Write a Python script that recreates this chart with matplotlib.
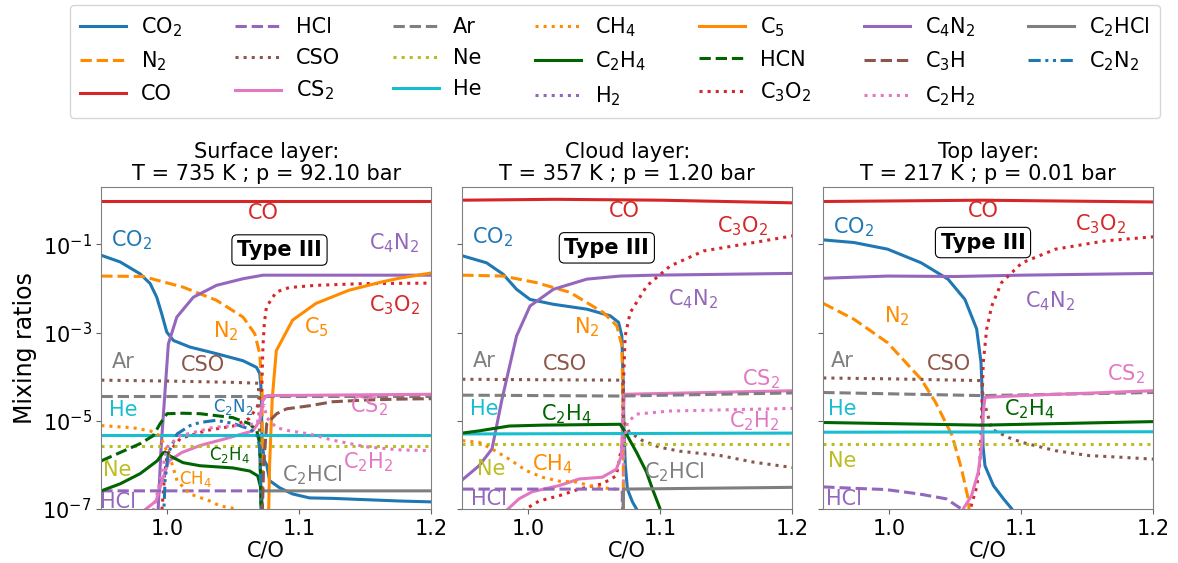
import numpy as np
import matplotlib.pyplot as plt
from matplotlib.lines import Line2D
from matplotlib.ticker import NullLocator

# line style of every species: colour, linestyle
STYLE = {
    'CO2': ('tab:blue', '-'), 'N2': ('darkorange', '--'), 'CO': ('tab:red', '-'),
    'HCl': ('tab:purple', '--'), 'CSO': ('tab:brown', ':'), 'CS2': ('tab:pink', '-'),
    'Ar': ('tab:gray', '--'), 'Ne': ('tab:olive', ':'), 'He': ('tab:cyan', '-'),
    'CH4': ('darkorange', ':'), 'C2H4': ('darkgreen', '-'), 'H2': ('tab:purple', ':'),
    'C5': ('darkorange', '-'), 'HCN': ('darkgreen', '--'), 'C3O2': ('tab:red', ':'),
    'C4N2': ('tab:purple', '-'), 'C3H': ('tab:brown', '--'), 'C2H2': ('tab:pink', ':'),
    'C2HCl': ('tab:gray', '-'), 'C2N2': ('tab:blue', (0, (4, 1.5, 1, 1.5, 1, 1.5))),
}
LABELS = {
    'CO2': 'CO$_2$', 'N2': 'N$_2$', 'CO': 'CO', 'HCl': 'HCl', 'CSO': 'CSO',
    'CS2': 'CS$_2$', 'Ar': 'Ar', 'Ne': 'Ne', 'He': 'He', 'CH4': 'CH$_4$',
    'C2H4': 'C$_2$H$_4$', 'H2': 'H$_2$', 'C5': 'C$_5$', 'HCN': 'HCN',
    'C3O2': 'C$_3$O$_2$', 'C4N2': 'C$_4$N$_2$', 'C3H': 'C$_3$H',
    'C2H2': 'C$_2$H$_2$', 'C2HCl': 'C$_2$HCl', 'C2N2': 'C$_2$N$_2$',
}
LEGEND_ORDER = ['CO2', 'N2', 'CO', 'HCl', 'CSO', 'CS2', 'Ar', 'Ne', 'He', 'CH4',
                'C2H4', 'H2', 'C5', 'HCN', 'C3O2', 'C4N2', 'C3H', 'C2H2', 'C2HCl', 'C2N2']

# mixing ratios: species -> (C/O values, log10 mixing ratio)
surface = {
    'CO': ([0.95, 1.2], [-0.01, -0.01]),
    'CO2': ([0.95, 0.9643, 0.9794, 0.987, 0.992, 0.9958, 0.9996, 1.0046, 1.0172, 1.0373, 1.0574,
             1.0676, 1.07, 1.0708, 1.0712, 1.0718, 1.0735, 1.0753, 1.0776, 1.0851, 1.0949, 1.1078,
             1.125, 1.176, 1.2],
            [-1.25, -1.40, -1.67, -1.89, -2.20, -2.58, -2.99, -3.18, -3.33, -3.48, -3.64,
             -3.79, -3.93, -4.16, -4.4, -5.5, -5.9, -6.0, -6.36, -6.52, -6.66, -6.75,
             -6.76, -6.82, -6.84]),
    'N2': ([0.95, 0.9817, 1.0119, 1.0373, 1.0574, 1.0663, 1.07, 1.0718, 1.0722],
           [-1.72, -1.73, -1.97, -2.27, -2.65, -3.03, -3.48, -4.3, -7.5]),
    'C4N2': ([0.992, 0.993, 0.9953, 0.9983, 1.0008, 1.0072, 1.0197, 1.0373, 1.0574, 1.0725, 1.2],
             [-7.5, -7.05, -5.6, -4.32, -3.26, -2.65, -2.20, -1.93, -1.78, -1.70, -1.70]),
    'C3O2': ([0.9955, 0.998, 1.0, 1.01, 1.03, 1.05, 1.062, 1.068, 1.0715, 1.0725, 1.0735,
              1.0751, 1.0826, 1.0924, 1.1126, 1.15, 1.2],
             [-7.2, -6.2, -5.75, -5.4, -5.22, -5.12, -4.95, -4.7, -4.3, -3.3, -2.8,
              -2.42, -2.08, -1.98, -1.93, -1.89, -1.88]),
    'C5': ([1.0765, 1.0775, 1.0795, 1.0826, 1.0949, 1.1126, 1.1378, 1.163, 1.1756, 1.2],
           [-7.5, -6.0, -4.5, -3.41, -2.72, -2.34, -2.04, -1.85, -1.77, -1.65]),
    'CSO': ([0.95, 1.0, 1.05, 1.069, 1.0715], [-4.08, -4.10, -4.13, -4.15, -7.5]),
    'Ar': ([0.95, 1.2], [-4.44, -4.44]),
    'CS2': ([0.9817, 0.9915, 0.996, 1.0012, 1.011, 1.025, 1.045, 1.0648, 1.07, 1.0723, 1.0753, 1.2],
            [-7.05, -6.82, -6.36, -5.91, -5.72, -5.56, -5.4, -5.23, -5.0, -4.55, -4.43, -4.40]),
    'He': ([0.95, 1.2], [-5.33, -5.33]),
    'Ne': ([0.95, 1.2], [-5.57, -5.57]),
    'HCl': ([0.95, 1.0712, 1.0716], [-6.59, -6.59, -7.5]),
    'C2HCl': ([1.0716, 1.0718, 1.2], [-7.5, -6.59, -6.59]),
    'HCN': ([0.95, 0.9643, 0.9794, 0.9893, 0.9945, 0.9998, 1.0119, 1.0247, 1.0497, 1.0625,
             1.0678, 1.07, 1.0716],
            [-5.91, -5.72, -5.52, -5.34, -5.07, -4.84, -4.83, -4.84, -4.93, -5.07,
             -5.23, -5.52, -7.5]),
    'C2H4': ([0.95, 0.9643, 0.9794, 0.9923, 0.9968, 0.9983, 1.0021, 1.0119, 1.0247, 1.0497,
              1.0625, 1.0685, 1.0708, 1.0716],
             [-6.59, -6.43, -6.2, -5.91, -5.73, -5.71, -5.8, -5.95, -6.02, -6.07,
              -6.14, -6.25, -6.52, -7.5]),
    'CH4': ([0.95, 0.9742, 0.987, 0.9945, 0.9983, 1.0036, 1.0074, 1.0172, 1.0323, 1.0398, 1.0527, 1.06],
            [-5.11, -5.16, -5.23, -5.34, -5.6, -5.98, -6.36, -6.66, -6.82, -6.93, -7.0, -7.2]),
    'C2N2': ([0.9968, 0.9983, 1.0006, 1.0074, 1.0172, 1.0247, 1.037, 1.0497, 1.0625, 1.0678, 1.07, 1.0716],
             [-7.5, -6.36, -5.75, -5.3, -5.11, -5.04, -4.99, -5.06, -5.19, -5.3, -5.6, -7.5]),
    'C2H2': ([0.9893, 0.9945, 0.9998, 1.0096, 1.0247, 1.0346, 1.0678, 1.0716, 1.0735, 1.0753,
              1.0829, 1.0927, 1.1078, 1.1252, 1.1504, 1.1756, 1.2],
             [-7.05, -6.36, -5.6, -5.34, -5.23, -5.15, -5.07, -4.7, -4.65, -4.93,
              -5.16, -5.23, -5.3, -5.44, -5.59, -5.66, -5.68]),
    'C3H': ([1.0716, 1.073, 1.0753, 1.0829, 1.0904, 1.1078, 1.1252, 1.1504, 1.1756, 1.2],
            [-7.5, -6.0, -5.07, -4.84, -4.73, -4.66, -4.57, -4.53, -4.51, -4.50]),
}

cloud = {
    'CO': ([0.95, 1.02, 1.1, 1.2], [0.0, 0.02, 0.0, -0.06]),
    'CO2': ([0.95, 0.9684, 0.981, 0.9911, 1.0013, 1.019, 1.0443, 1.062, 1.0684, 1.0709, 1.0718,
             1.0725, 1.0735, 1.0751, 1.0789, 1.082, 1.086],
            [-1.26, -1.42, -1.68, -2.02, -2.25, -2.36, -2.47, -2.62, -2.77, -3.08, -4.06,
             -5.2, -6.0, -6.55, -6.84, -7.0, -7.3]),
    'N2': ([0.95, 0.981, 1.0063, 1.0316, 1.057, 1.0671, 1.0709, 1.0718, 1.0722],
           [-1.70, -1.72, -1.87, -2.09, -2.55, -2.85, -3.3, -4.8, -7.5]),
    'C4N2': ([0.95, 0.9627, 0.9725, 0.9801, 0.9911, 1.0013, 1.019, 1.0443, 1.0696, 1.0949, 1.2],
             [-6.34, -6.02, -5.64, -4.51, -3.08, -2.40, -2.02, -1.79, -1.72, -1.70, -1.66]),
    'C3O2': ([0.9953, 1.0082, 1.0234, 1.0386, 1.0561, 1.0667, 1.0713, 1.0722, 1.0734, 1.0772,
              1.0899, 1.1076, 1.1329, 1.1709, 1.2],
             [-7.05, -6.82, -6.7, -6.55, -6.43, -6.25, -5.5, -4.06, -3.08, -2.55,
              -1.94, -1.49, -1.15, -0.96, -0.81]),
    'CS2': ([0.9832, 0.993, 1.0029, 1.0234, 1.0386, 1.0561, 1.0667, 1.0705, 1.0715, 1.0728, 1.2],
            [-7.04, -6.77, -6.61, -6.47, -6.32, -6.28, -6.1, -5.8, -5.0, -4.40, -4.32]),
    'Ar': ([0.95, 1.07, 1.2], [-4.42, -4.44, -4.37]),
    'CSO': ([0.95, 1.07, 1.0715, 1.0722, 1.0766, 1.0865, 1.0994, 1.1146, 1.1456, 1.1709, 1.2],
            [-4.06, -4.08, -4.1, -5.0, -5.26, -5.45, -5.6, -5.69, -5.79, -5.94, -6.06]),
    'He': ([0.95, 1.2], [-5.30, -5.28]),
    'Ne': ([0.95, 1.2], [-5.53, -5.53]),
    'C2H4': ([0.95, 0.9627, 0.9855, 1.0105, 1.0696, 1.0743, 1.0819, 1.0895, 1.0941, 1.0994, 1.103],
             [-5.28, -5.23, -5.12, -5.1, -5.08, -5.3, -5.71, -6.16, -6.55, -6.96, -7.3]),
    'C2H2': ([1.0716, 1.0725, 1.0751, 1.0819, 1.107, 1.2],
             [-7.5, -5.5, -5.04, -4.85, -4.78, -4.72]),
    'CH4': ([0.95, 0.9627, 0.9725, 0.9855, 0.9984, 1.0105, 1.0234, 1.0363, 1.05, 1.066, 1.0712, 1.0716],
            [-5.45, -5.49, -5.64, -5.87, -6.13, -6.28, -6.37, -6.39, -6.5, -6.55, -6.6, -7.5]),
    'HCl': ([0.95, 1.0712, 1.0716], [-6.55, -6.55, -7.5]),
    'C2HCl': ([1.0716, 1.0722, 1.2], [-7.5, -6.55, -6.51]),
}

top = {
    'CO': ([0.95, 1.07, 1.2], [-0.03, 0.0, -0.04]),
    'CO2': ([0.95, 0.9733, 0.9987, 1.0242, 1.0445, 1.0573, 1.0662, 1.0695, 1.0705, 1.071,
             1.0725, 1.0789, 1.0865, 1.0929, 1.097],
            [-0.90, -0.96, -1.11, -1.42, -1.79, -2.25, -2.92, -3.68, -4.43, -5.57,
             -6.02, -6.47, -6.77, -7.0, -7.3]),
    'C4N2': ([0.95, 0.999, 1.05, 1.1, 1.2], [-1.77, -1.72, -1.73, -1.70, -1.66]),
    'C3O2': ([1.0585, 1.0662, 1.0687, 1.07, 1.0712, 1.0738, 1.0776, 1.085, 1.1005, 1.126, 1.164, 1.2],
             [-7.3, -6.5, -5.94, -4.81, -3.68, -2.92, -2.40, -1.87, -1.42, -1.11, -0.92, -0.83]),
    'N2': ([0.95, 0.9733, 0.9987, 1.0242, 1.035, 1.0475, 1.0547, 1.0598, 1.061],
           [-2.34, -2.70, -3.23, -4.06, -4.58, -5.33, -6.09, -6.77, -7.2]),
    'CSO': ([0.95, 1.0, 1.07, 1.0712, 1.0776, 1.0903, 1.1005, 1.126, 1.1514, 1.1768, 1.2],
            [-4.03, -4.05, -4.09, -4.5, -5.19, -5.38, -5.49, -5.68, -5.79, -5.83, -5.87]),
    'Ar': ([0.95, 1.07, 1.2], [-4.36, -4.43, -4.36]),
    'CS2': ([1.056, 1.0623, 1.0674, 1.07, 1.0712, 1.0725, 1.1005, 1.2],
            [-7.0, -6.7, -6.17, -5.57, -4.81, -4.47, -4.43, -4.32]),
    'He': ([0.95, 1.2], [-5.26, -5.25]),
    'C2H4': ([0.95, 1.07, 1.2], [-5.04, -5.10, -5.02]),
    'Ne': ([0.95, 1.2], [-5.52, -5.52]),
    'HCl': ([0.95, 0.9714, 0.9973, 1.0225, 1.0431, 1.0466, 1.0547, 1.058],
            [-6.5, -6.53, -6.56, -6.66, -6.77, -6.84, -7.0, -7.2]),
}

# in-panel species labels: (text, C/O, log10 y, colour, size)
surface_labels = [
    ('CO', 1.073, -0.30, 'tab:red', 15), ('CO$_2$', 0.973, -0.90, 'tab:blue', 15),
    ('C$_4$N$_2$', 1.172, -0.98, 'tab:purple', 15), ('C$_3$O$_2$', 1.172, -2.39, 'tab:red', 15),
    ('N$_2$', 1.044, -2.98, 'darkorange', 15), ('C$_5$', 1.113, -2.87, 'darkorange', 15),
    ('Ar', 0.967, -3.66, 'tab:gray', 15), ('CSO', 1.027, -3.74, 'tab:brown', 15),
    ('CS$_2$', 1.153, -4.66, 'tab:pink', 15), ('He', 0.967, -4.76, 'tab:cyan', 15),
    ('C$_2$N$_2$', 1.050, -4.68, 'tab:blue', 12), ('C$_2$H$_4$', 1.047, -5.78, 'darkgreen', 12),
    ('CH$_4$', 1.021, -6.31, 'darkorange', 12), ('Ne', 0.962, -6.12, 'tab:olive', 15),
    ('HCl', 0.963, -6.84, 'tab:purple', 15), ('C$_2$HCl', 1.110, -6.23, 'tab:gray', 15),
    ('C$_2$H$_2$', 1.152, -5.95, 'tab:pink', 15),
]
cloud_labels = [
    ('CO', 1.073, -0.25, 'tab:red', 15), ('C$_3$O$_2$', 1.162, -0.58, 'tab:red', 15),
    ('CO$_2$', 0.973, -0.85, 'tab:blue', 15), ('C$_4$N$_2$', 1.125, -2.25, 'tab:purple', 15),
    ('N$_2$', 1.044, -2.89, 'darkorange', 15), ('Ar', 0.967, -3.64, 'tab:gray', 15),
    ('CSO', 1.028, -3.72, 'tab:brown', 15), ('CS$_2$', 1.176, -4.06, 'tab:pink', 15),
    ('He', 0.967, -4.74, 'tab:cyan', 15), ('C$_2$H$_4$', 1.029, -4.85, 'darkgreen', 15),
    ('C$_2$H$_2$', 1.171, -5.0, 'tab:pink', 15), ('Ne', 0.972, -6.09, 'tab:olive', 15),
    ('CH$_4$', 1.018, -5.98, 'darkorange', 15), ('C$_2$HCl', 1.111, -6.17, 'tab:gray', 15),
    ('HCl', 0.970, -6.77, 'tab:purple', 15),
]
top_labels = [
    ('CO', 1.071, -0.25, 'tab:red', 15), ('C$_3$O$_2$', 1.160, -0.55, 'tab:red', 15),
    ('CO$_2$', 0.973, -0.62, 'tab:blue', 15), ('C$_4$N$_2$', 1.122, -2.28, 'tab:purple', 15),
    ('N$_2$', 1.006, -2.62, 'darkorange', 15), ('Ar', 0.964, -3.64, 'tab:gray', 15),
    ('CSO', 1.045, -3.72, 'tab:brown', 15), ('CS$_2$', 1.179, -3.94, 'tab:pink', 15),
    ('He', 0.964, -4.74, 'tab:cyan', 15), ('C$_2$H$_4$', 1.106, -4.74, 'darkgreen', 15),
    ('Ne', 0.964, -5.91, 'tab:olive', 15), ('HCl', 0.966, -6.77, 'tab:purple', 15),
]

titles = ['Surface layer:\nT = 735 K ; p = 92.10 bar',
          'Cloud layer:\nT = 357 K ; p = 1.20 bar',
          'Top layer:\nT = 217 K ; p = 0.01 bar']
type_pos = [(1.085, -1.13), (1.0595, -1.08), (1.071, -0.96)]

fig, axes = plt.subplots(1, 3, figsize=(11.78, 5.63), dpi=100, sharey=True)
fig.subplots_adjust(left=0.086, right=0.979, bottom=0.096, top=0.668, wspace=0.094)

for ax, panel, labels, title, tp in zip(axes, [surface, cloud, top],
                                        [surface_labels, cloud_labels, top_labels],
                                        titles, type_pos):
    for name, (co, logy) in panel.items():
        color, ls = STYLE[name]
        ax.plot(co, 10 ** np.array(logy), color=color, ls=ls, lw=2.2)
    for txt, x, ly, c, fs in labels:
        ax.text(x, 10 ** ly, txt, color=c, fontsize=fs, ha='center', va='center')
    ax.text(tp[0], 10 ** tp[1], 'Type III', fontsize=15, fontweight='bold', ha='center', va='center',
            bbox=dict(boxstyle='round,pad=0.25', facecolor='white', edgecolor='black', lw=0.8))
    ax.set_yscale('log')
    ax.set_xlim(0.95, 1.2)
    ax.set_ylim(1e-7, 2)
    ax.set_yticks([1e-7, 1e-5, 1e-3, 1e-1])
    ax.yaxis.set_minor_locator(NullLocator())
    ax.set_xticks([1.0, 1.1, 1.2])
    ax.tick_params(labelsize=15, color='0.4')
    for s in ax.spines.values():
        s.set_edgecolor('0.5')
    ax.set_title(title, fontsize=15, pad=5, linespacing=1.1)
    ax.set_xlabel('C/O', fontsize=15, labelpad=1)
axes[0].set_ylabel('Mixing ratios', fontsize=17)

handles = [Line2D([], [], color=STYLE[n][0], ls=STYLE[n][1], lw=2.2) for n in LEGEND_ORDER]
fig.legend(handles, [LABELS[n] for n in LEGEND_ORDER], loc='upper center', ncol=7,
           bbox_to_anchor=(0.522, 1.01), fontsize=15, handlelength=2.2, handletextpad=0.7,
           columnspacing=2.55, labelspacing=0.52, borderpad=0.5)

fig.savefig('out.png', dpi=100)
